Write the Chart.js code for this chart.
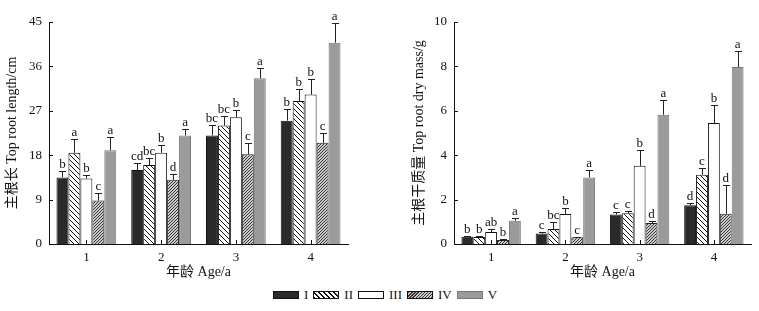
<!DOCTYPE html>
<html><head><meta charset="utf-8">
<script src="https://cdn.jsdelivr.net/npm/chart.js@4.4.1/dist/chart.umd.min.js"></script>
<style>
html,body{margin:0;padding:0;background:#fff;}
#wrap{position:relative;width:759px;height:311px;overflow:hidden;}
canvas{position:absolute;top:0;}
#legend{position:absolute;top:288px;left:273px;display:flex;align-items:center;font-family:"Liberation Serif","Noto Sans CJK SC",serif;font-size:13px;color:#111;height:14px;}
.sw{width:24px;height:6px;border:1px solid #111;margin-right:5px;}
.lt{margin-right:5px;line-height:14px;}
</style></head>
<body><div id="wrap">
<canvas id="c1" width="360" height="285" style="left:0;width:360px;height:285px"></canvas>
<canvas id="c2" width="379" height="285" style="left:380px;width:379px;height:285px"></canvas>
<div id="legend">
<div class="sw" style="background:#2a2a2a"></div><span class="lt">I</span>
<div class="sw" style="background:repeating-linear-gradient(45deg,#111 0 1px,#fff 1px 3.5px)"></div><span class="lt">II</span>
<div class="sw" style="background:#fff"></div><span class="lt">III</span>
<div class="sw" style="background:repeating-linear-gradient(-45deg,#333 0 1px,#ccc 1px 2.2px)"></div><span class="lt">IV</span>
<div class="sw" style="background:#9b9b9b;border-color:#777"></div><span class="lt">V</span>
</div>
</div>
<script>
// ---- data ----
const categories = ['1', '2', '3', '4'];
const seriesNames = ['I', 'II', 'III', 'IV', 'V'];

// Top root length (cm)
const lenI = [13.5, 15.0, 22.0, 25.0];
const lenII = [18.5, 16.0, 24.0, 29.0];
const lenIII = [13.3, 18.5, 25.7, 30.3];
const lenIV = [8.8, 13.0, 18.2, 20.5];
const lenV = [19.0, 22.0, 33.6, 40.8];
const lenErrI = [1.2, 1.4, 2.1, 2.3];
const lenErrII = [2.8, 1.5, 1.9, 2.5];
const lenErrIII = [0.6, 1.5, 1.5, 3.1];
const lenErrIV = [1.6, 1.2, 2.3, 1.9];
const lenErrV = [2.7, 1.4, 2.0, 4.0];
const lenLetI = ['b', 'cd', 'bc', 'b'];
const lenLetII = ['a', 'bc', 'bc', 'b'];
const lenLetIII = ['b', 'b', 'b', 'b'];
const lenLetIV = ['c', 'd', 'c', 'c'];
const lenLetV = ['a', 'a', 'a', 'a'];
const lenTicks = [0, 9, 18, 27, 36, 45];

// Top root dry mass (g)
const massI = [0.33, 0.47, 1.33, 1.75];
const massII = [0.32, 0.68, 1.38, 3.12];
const massIII = [0.54, 1.35, 3.52, 5.45];
const massIV = [0.18, 0.3, 0.95, 1.36];
const massV = [1.05, 3.0, 5.82, 7.97];
const massErrI = [0.03, 0.05, 0.1, 0.08];
const massErrII = [0.05, 0.3, 0.12, 0.3];
const massErrIII = [0.15, 0.25, 0.72, 0.8];
const massErrIV = [0.04, 0.03, 0.08, 1.3];
const massErrV = [0.12, 0.35, 0.68, 0.74];
const massLetI = ['b', 'c', 'c', 'd'];
const massLetII = ['b', 'bc', 'c', 'c'];
const massLetIII = ['ab', 'b', 'b', 'b'];
const massLetIV = ['b', 'c', 'd', 'd'];
const massLetV = ['a', 'a', 'a', 'a'];
const massTicks = [0, 2, 4, 6, 8, 10];

// ---- styles ----
const SERIF = '"Liberation Serif", "Noto Sans CJK SC", serif';
const TITLEF = '"Liberation Serif", "Noto Sans CJK SC", serif';

function hatch(period, bg, fg, dir) {
  const c = document.createElement('canvas');
  c.width = period; c.height = period;
  const g = c.getContext('2d');
  g.fillStyle = bg; g.fillRect(0, 0, period, period);
  g.strokeStyle = fg; g.lineWidth = 1;
  g.beginPath();
  if (dir === '\\') {
    g.moveTo(-1, -1); g.lineTo(period + 1, period + 1);
    g.moveTo(-period - 1, -1); g.lineTo(1, period + 1);
    g.moveTo(period - 1, -1 - period); g.lineTo(period * 2 + 1, period + 1);
  } else {
    g.moveTo(-1, period + 1); g.lineTo(period + 1, -1);
    g.moveTo(-period - 1, period + 1); g.lineTo(1, -1);
    g.moveTo(period - 1, period + 1); g.lineTo(2 * period + 1, -1);
  }
  g.stroke();
  return g.createPattern(c, 'repeat');
}
const fills = ['#2a2a2a', hatch(5, '#ffffff', '#111111', '\\'), '#ffffff', hatch(3, '#cccccc', '#333333', '/'), '#9b9b9b'];
const borders = ['#111', '#111', '#111', '#222', '#777'];

function makeDatasets(vals, errs, lets) {
  return vals.map((v, i) => ({
    label: seriesNames[i], data: v, errors: errs[i], letters: lets[i],
    backgroundColor: fills[i], borderColor: borders[i], borderWidth: 1,
    categoryPercentage: 0.8, barPercentage: 1.0
  }));
}

const errPlugin = {
  id: 'errLetters',
  afterDatasetsDraw(chart) {
    const ctx = chart.ctx, ys = chart.scales.y;
    ctx.save();
    chart.data.datasets.forEach((ds, di) => {
      const meta = chart.getDatasetMeta(di);
      meta.data.forEach((el, i) => {
        const top = ys.getPixelForValue(ds.data[i] + ds.errors[i]);
        const x = Math.round(el.x) + 0.5;
        ctx.strokeStyle = '#222'; ctx.lineWidth = 1;
        ctx.beginPath();
        ctx.moveTo(x, el.y); ctx.lineTo(x, Math.round(top) + 0.5);
        ctx.moveTo(x - 3.5, Math.round(top) + 0.5); ctx.lineTo(x + 3.5, Math.round(top) + 0.5);
        ctx.stroke();
        ctx.fillStyle = '#111';
        ctx.font = '13px ' + SERIF;
        ctx.textAlign = 'center'; ctx.textBaseline = 'alphabetic';
        ctx.fillText(ds.letters[i], el.x, top - 3);
      });
    });
    // inward tick marks
    ctx.strokeStyle = '#111'; ctx.lineWidth = 1;
    ctx.beginPath();
    const xs = chart.scales.x;
    ys.ticks.forEach((t, i) => {
      const y = Math.round(ys.getPixelForTick(i)) + 0.5;
      ctx.moveTo(xs.left, y); ctx.lineTo(xs.left + 4, y);
    });
    xs.ticks.forEach((t, i) => {
      const x = Math.round(xs.getPixelForTick(i)) + 0.5;
      ctx.moveTo(x, ys.bottom); ctx.lineTo(x, ys.bottom - 4);
    });
    ctx.stroke();
    ctx.restore();
  }
};

function makeChart(id, vals, errs, lets, tickVals, yTitle, yWidth, rightPad, titlePad) {
  const maxV = tickVals[tickVals.length - 1];
  const step = tickVals[1] - tickVals[0];
  return new Chart(document.getElementById(id), {
    type: 'bar',
    data: { labels: categories, datasets: makeDatasets(vals, errs, lets) },
    plugins: [errPlugin],
    options: {
      responsive: false, animation: false, devicePixelRatio: 1,
      layout: { padding: { top: 22, right: rightPad, left: 0, bottom: 0 } },
      plugins: { legend: { display: false }, tooltip: { enabled: false } },
      scales: {
        x: {
          grid: { display: false, drawTicks: false },
          border: { display: true, color: '#111', width: 1 },
          ticks: { padding: 6, color: '#111', font: { family: SERIF, size: 13 } },
          title: { display: true, text: '年龄 Age/a', color: '#111', font: { family: TITLEF, size: 14 }, padding: { top: 0, bottom: 4 } },
          afterFit(s) { s.height = 285 - 244; }
        },
        y: {
          min: 0, max: maxV,
          grid: { display: false, drawTicks: false },
          border: { display: true, color: '#111', width: 1 },
          ticks: { stepSize: step, padding: 7, color: '#111', font: { family: SERIF, size: 13 } },
          title: { display: true, text: yTitle, color: '#111', font: { family: TITLEF, size: 14 }, padding: { top: titlePad, bottom: 0 } },
          afterFit(s) { s.width = yWidth; }
        }
      }
    }
  });
}

makeChart('c1',
  [lenI, lenII, lenIII, lenIV, lenV],
  [lenErrI, lenErrII, lenErrIII, lenErrIV, lenErrV],
  [lenLetI, lenLetII, lenLetIII, lenLetIV, lenLetV],
  lenTicks, '主根长 Top root length/cm', 49, 12, 4);

makeChart('c2',
  [massI, massII, massIII, massIV, massV],
  [massErrI, massErrII, massErrIII, massErrIV, massErrV],
  [massLetI, massLetII, massLetIII, massLetIV, massLetV],
  massTicks, '主根干质量 Top root dry mass/g', 74, 8, 31);
</script>
</body></html>
